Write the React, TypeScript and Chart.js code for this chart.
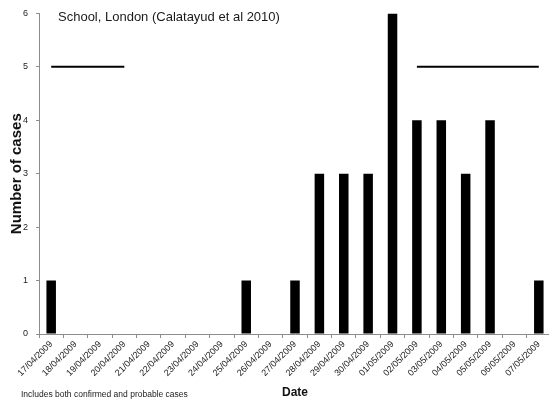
import React, { useEffect, useRef } from "react";
import { Chart, registerables } from "chart.js";

Chart.register(...registerables);

const dates = [
  "17/04/2009", "18/04/2009", "19/04/2009", "20/04/2009", "21/04/2009",
  "22/04/2009", "23/04/2009", "24/04/2009", "25/04/2009", "26/04/2009",
  "27/04/2009", "28/04/2009", "29/04/2009", "30/04/2009", "01/05/2009",
  "02/05/2009", "03/05/2009", "04/05/2009", "05/05/2009", "06/05/2009",
  "07/05/2009",
];
const cases = [1, 0, 0, 0, 0, 0, 0, 0, 1, 0, 1, 3, 3, 3, 6, 4, 4, 3, 4, 0, 1];
const periodA = [5, 5, 5, 5, null, null, null, null, null, null, null, null, null, null, null, null, null, null, null, null, null];
const periodB = [null, null, null, null, null, null, null, null, null, null, null, null, null, null, null, 5, 5, 5, 5, 5, 5];
const chartTitle = "School, London (Calatayud et al 2010)";
const footnote = "Includes both confirmed and probable cases";
const yTitle = "Number of cases";
const xTitle = "Date";

const FONT = "'Liberation Sans', Arial, sans-serif";

const textPlugin = {
  id: "textPlugin",
  afterDraw(chart: any) {
    const ctx = chart.ctx;
    ctx.save();
    ctx.fillStyle = "#1a1a1a";
    ctx.textBaseline = "alphabetic";
    ctx.textAlign = "left";
    ctx.font = `13px ${FONT}`;
    ctx.fillText(chartTitle, 58, 21);
    ctx.font = `8.5px ${FONT}`;
    ctx.fillText(footnote, 21, 397);
    ctx.restore();
  },
};

export default function App() {
  const ref = useRef<HTMLCanvasElement | null>(null);
  useEffect(() => {
    document.documentElement.style.overflow = "hidden";
    document.body.style.margin = "0";
    const canvas = ref.current!;
    const chart = new Chart(canvas, {
      type: "bar",
      data: {
        labels: dates,
        datasets: [
          {
            type: "bar",
            data: cases,
            backgroundColor: "#000000",
            borderWidth: 0,
            categoryPercentage: 1,
            barPercentage: 0.39,
            order: 2,
          } as any,
          {
            type: "line",
            data: periodA,
            borderColor: "#000000",
            borderWidth: 2,
            pointRadius: 0,
            spanGaps: false,
            order: 1,
          } as any,
          {
            type: "line",
            data: periodB,
            borderColor: "#000000",
            borderWidth: 2,
            pointRadius: 0,
            spanGaps: false,
            order: 1,
          } as any,
        ],
      },
      options: {
        animation: false,
        responsive: false,
        devicePixelRatio: 1,
        layout: { padding: { top: 12, right: 0, bottom: 0, left: 0 } },
        plugins: {
          legend: { display: false },
          tooltip: { enabled: false },
        },
        scales: {
          x: {
            offset: true,
            grid: {
              display: true,
              offset: true,
              drawOnChartArea: false,
              drawTicks: true,
              tickLength: 4,
              color: "#8c8c8c",
            },
            border: { display: true, color: "#8c8c8c", width: 1 },
            ticks: {
              autoSkip: false,
              minRotation: 45,
              maxRotation: 45,
              padding: 1,
              color: "#222",
              font: { family: FONT, size: 9 },
            },
            title: {
              display: true,
              text: xTitle,
              color: "#111",
              font: { family: FONT, size: 12, weight: "bold" },
              padding: { top: 0, bottom: 3 },
            },
            afterFit(scale: any) {
              scale.height = 69;
            },
          },
          y: {
            min: 0,
            max: 6,
            grid: {
              display: true,
              drawOnChartArea: false,
              drawTicks: true,
              tickLength: 3,
              color: "#8c8c8c",
            },
            border: { display: true, color: "#8c8c8c", width: 1 },
            ticks: {
              stepSize: 1,
              padding: 8,
              color: "#222",
              font: { family: FONT, size: 9 },
            },
            title: {
              display: true,
              text: yTitle,
              color: "#111",
              font: { family: FONT, size: 15, weight: "bold" },
              padding: { top: 8, bottom: 0 },
            },
            afterFit(scale: any) {
              scale.width = 39;
            },
          },
        },
      } as any,
      plugins: [textPlugin],
    });
    return () => chart.destroy();
  }, []);
  return (
    <div style={{ position: "fixed", left: 0, top: 0, width: 551, height: 403, background: "#fff" }}>
      <canvas ref={ref} width={551} height={403} style={{ width: 551, height: 403, display: "block" }} />
    </div>
  );
}
